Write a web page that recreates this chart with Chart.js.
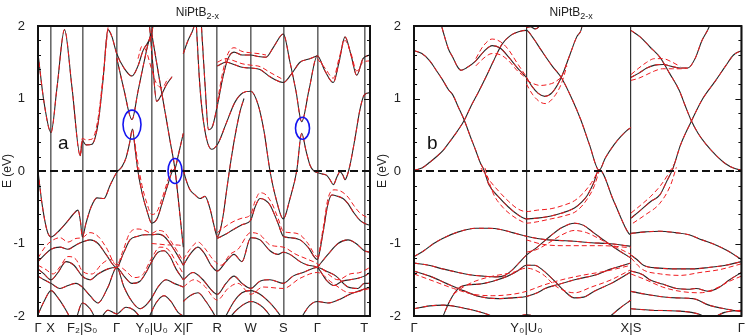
<!DOCTYPE html>
<html>
<head>
<meta charset="utf-8">
<script src="https://cdn.jsdelivr.net/npm/chart.js@4.4.1/dist/chart.umd.min.js"></script>
<style>
  html, body { margin: 0; padding: 0; background: #fff; }
  #wrap { position: relative; width: 750px; height: 336px; overflow: hidden; }
  canvas { position: absolute; top: 0; }
</style>
</head>
<body>
<div id="wrap">
  <canvas id="panelA" width="375" height="336" style="left:0;width:375px;height:336px"></canvas>
  <canvas id="panelB" width="375" height="336" style="left:375px;width:375px;height:336px"></canvas>
</div>
<script>
// ---------- axes ----------
const yTicks = [-2, -1, 0, 1, 2];
const leftNodes  = [0, 12.7, 44.3, 78.7, 113.7, 145.3, 179.3, 212.7, 245.3, 279.3, 326.3];
const leftLabels = ['Γ', 'X', 'F₂|S₀', 'Γ', 'Y₀|U₀', 'X|Γ', 'R', 'W', 'S', 'Γ', 'T'];
const leftKMax = 332;
const rightNodes  = [0, 114, 220, 332];
const rightLabels = ['Γ', 'Y₀|U₀', 'X|S', 'Γ'];
const rightKMax = 332;

// ---------- panel a : bands [k, E] ----------
const bandA = [[0,1.62],[6,0.95],[13,0.53],[19,1.15],[26.5,1.95],[34,1.15],[42.3,0.21],[44.3,0.42],[48,0.36],[54,0.37],[60,0.65],[65,1.25],[70,1.95],[74,1.85],[78.7,1.62],[86,1.42],[94,1.31],[100,1.45],[105,1.66],[113.7,1.9],[116,2.1]];
const bandB = [[78.7,1.56],[86,1.12],[94,0.71],[100,1.1],[106,1.5],[110,1.75],[113.7,1.92]];
const bandC = [[111,2.1],[114,1.6],[118.7,0.96],[123,1.04],[128,1.18],[134,1.3]];
const bandD = [[113.7,1.9],[120,1.38],[127,0.82],[132,0.42],[137,0.02],[140,-0.35],[143,-0.75],[145.3,-1.05]];
const bandE = [[0,0.0],[4,-0.45],[9,-0.82],[13,-0.91],[20,-0.84],[28,-0.72],[35,-0.6],[40,-0.54],[42.5,-0.7],[44.3,-0.91],[48,-0.72],[53,-0.5],[59,-0.37],[66,-0.38],[72,-0.2],[78.7,-0.02],[84,0.06],[88,0.18],[91.5,0.38],[94.5,0.58],[97,0.32],[99.7,0.02],[104,-0.3],[109,-0.55],[113.7,-0.72],[119,-0.66],[124,-0.45],[130,-0.18],[134.5,0.0],[137,0.03],[140,0.2],[145.3,0.52]];
const bandF = [[145.3,1.62],[150,1.8],[155,1.95],[158,2.1]];
const bandG = [[163,2.1],[167,1.2],[170.5,0.57],[174,0.6],[179.3,0.9],[185,1.3],[190,1.55],[196,1.64],[204,1.6],[212.7,1.6],[220,1.58],[228,1.57],[236,1.72],[245.3,1.89],[252,1.5],[258,1.1],[263.7,0.68],[271,1.12],[279.3,1.59],[287,1.38],[295.3,1.22],[301,1.5],[307,1.85],[313,1.6],[318.7,1.32],[325,1.55],[332,1.6]];
const bandH = [[179.3,1.45],[188,1.5],[196,1.47],[204,1.43],[212.7,1.42],[222,1.4],[232,1.3],[240,1.24],[245.3,1.22],[253,1.33],[262,1.5],[270,1.54],[279.3,1.59]];
const bandI = [[158,2.1],[162,1.15],[167,0.55],[173.7,0.3],[180,0.38],[188,0.65],[197,0.95],[205,1.08],[212.7,1.1],[220,0.92],[226,0.55],[232,0.0],[238,-0.38],[245.3,-0.66],[252,-0.38],[258.7,0.0],[263.7,0.52],[268,0.28],[272,0.08],[276,0.0],[279.3,-0.02],[284,-0.04],[288.7,-0.06],[292,-0.12],[295.3,-0.19],[299,-0.08],[302,-0.01],[305,-0.06],[307,-0.12],[309.5,-0.05],[312,0.08],[317,0.45],[322,0.85],[326.3,1.05],[332,1.08]];
const bandJ = [[145.3,0.02],[148,-0.12],[152,-0.26],[157,-0.33],[162,-0.38],[167,-0.35],[172,-0.52],[176,-0.75],[179.3,-0.91],[182.5,-0.8],[185.3,-0.6],[188.5,-0.28],[192,0.06],[197,0.48],[202,0.82],[206,1.0]];
const bandK = [[179.3,-0.93],[188,-0.87],[195,-0.81],[204,-0.74],[212.7,-0.68],[217,-0.5],[222,-0.38],[227,-0.4],[232,-0.47],[240,-0.72],[245.3,-0.9],[252,-0.92],[262,-0.95],[270,-1.05],[279.3,-1.22],[285,-0.85],[290,-0.45],[294,-0.33],[300,-0.35],[305,-0.38],[310,-0.45],[316,-0.58],[322,-0.68],[326.3,-0.72],[332,-0.75]];
const bandL1 = [[0,-1.25],[7,-1.15],[13,-1.08],[22,-1.05],[30,-1.08],[38,-1.02],[44.3,-0.98],[52,-0.95],[60,-1.0],[68,-1.15],[78.7,-1.33],[85,-1.15],[92,-0.95],[100,-0.9],[107,-0.88],[113.7,-0.88],[120,-0.87],[126,-0.9],[132,-1.0],[139,-1.15],[145.3,-1.3]];
const bandL3 = [[0,-1.35],[6,-1.42],[13,-1.5],[20,-1.4],[28,-1.25],[36,-1.3],[44.3,-1.45],[52,-1.5],[60,-1.42],[70,-1.35],[78.7,-1.33],[86,-1.45],[94,-1.55],[102,-1.52],[108,-1.4],[113.7,-1.25],[120,-1.12],[126,-1.1],[132,-1.18],[138,-1.35],[145.3,-1.5]];
const bandL4 = [[0,-1.45],[6,-1.5],[13,-1.55],[22,-1.62],[30,-1.58],[38,-1.55],[44.3,-1.6],[52,-1.72],[60,-1.82],[70,-1.6],[78.7,-1.33],[86,-1.6],[94,-1.8],[102,-1.9],[108,-1.85],[113.7,-1.75],[120,-1.6],[128,-1.5],[136,-1.55],[145.3,-1.6]];
const bandL5 = [[0,-1.98],[6,-1.8],[13,-1.65],[20,-1.75],[28,-1.92],[33,-2.05]];
const bandL6 = [[38,-2.05],[44.3,-1.82],[52,-1.9],[58,-2.05]];
const bandL7 = [[62,-2.05],[70,-1.92],[78.7,-1.97],[88,-1.88],[96,-1.92],[104,-2.05]];
const bandL8 = [[110,-2.05],[118,-1.82],[126,-1.72],[133,-1.8],[140,-1.95],[145.3,-2.0]];
const bandR3 = [[145.3,-1.3],[152,-1.15],[160,-1.05],[167,-1.15],[173,-1.3],[179.3,-1.38],[188,-1.25],[196,-1.15],[204,-1.25],[212.7,-0.92],[222,-0.95],[232,-1.1],[240,-1.15],[245.3,-1.12],[252,-1.15],[262,-1.25],[270,-1.3],[279.3,-1.33],[288,-1.5],[296,-1.58],[304,-1.52],[312,-1.5],[320,-1.48],[326.3,-1.45],[332,-1.4]];
const bandR4 = [[145.3,-1.5],[155,-1.4],[165,-1.5],[172,-1.62],[179.3,-1.7],[188,-1.55],[196,-1.45],[204,-1.55],[212.7,-1.62],[222,-1.52],[232,-1.5],[245.3,-1.55],[255,-1.45],[265,-1.4],[279.3,-1.33],[288,-1.38],[298,-1.45],[310,-1.6],[320,-1.62],[326.3,-1.55],[332,-1.55]];
const bandR5 = [[145.3,-1.8],[152,-1.72],[160,-1.68],[168,-1.8],[175,-1.95],[179.3,-2.05]];
const bandR6 = [[186,-2.05],[196,-1.8],[204,-1.68],[212.7,-1.65],[222,-1.7],[232,-1.82],[240,-1.95],[245.3,-2.05]];
const bandR7 = [[190,-2.05],[200,-1.9],[212.7,-1.8],[225,-1.88],[235,-2.05]];
const bandR8 = [[262,-2.05],[272,-1.85],[279.3,-1.8],[290,-1.82],[300,-1.78],[312,-1.7],[322,-1.65],[332,-1.6]];
const bandR9 = [[279.3,-1.33],[290,-1.15],[300,-1.0],[310,-0.95],[318,-1.0],[326.3,-1.1],[332,-1.12]];

// extra red (dashed) branches of panel a
const redA  = [[42.3,0.21],[44.3,0.45],[48,0.43],[54,0.44],[60,0.72],[65,1.3],[70,1.98]];
const redE  = [[97,0.38],[100,0.1],[104,-0.2],[109,-0.45],[113.7,-0.6],[119,-0.56],[124,-0.38],[130,-0.12],[134,0.05]];
const redX  = [[100,1.55],[104,1.72],[108,1.66],[113.7,1.4],[118,1.22],[124,1.15],[130,1.28]];
const redG  = [[179.3,0.95],[185,1.38],[190,1.62],[196,1.7],[204,1.65],[212.7,1.63],[220,1.62],[228,1.6]];
const redH  = [[179.3,1.5],[188,1.55],[196,1.52],[204,1.48],[212.7,1.46],[222,1.44],[232,1.36],[245.3,1.26]];
const redT  = [[279.3,1.55],[287,1.42],[295.3,1.28],[301,1.55],[307,1.8],[313,1.62],[318.7,1.38],[325,1.5],[332,1.52]];
const redK  = [[179.3,-0.85],[188,-0.76],[195,-0.7],[204,-0.65],[212.7,-0.6],[217,-0.42],[222,-0.3],[228,-0.33],[234,-0.45],[240,-0.65],[245.3,-0.83],[252,-0.85],[262,-0.88],[270,-1.0],[279.3,-1.18],[285,-0.8],[290,-0.38],[296,-0.26],[303,-0.28],[310,-0.36],[316,-0.48],[322,-0.58],[326.3,-0.62],[332,-0.66]];
const redL1 = [[0,-1.2],[7,-1.05],[13,-0.97],[22,-0.92],[30,-0.98],[38,-0.93],[44.3,-0.92],[52,-0.85],[60,-0.9],[68,-1.05],[78.7,-1.3],[85,-1.1],[92,-0.85],[100,-0.8],[107,-0.82],[113.7,-0.86],[120,-0.82],[126,-0.84],[132,-0.95],[139,-1.1],[145.3,-1.25]];
const redFlat = [[113.7,-1.0],[122,-1.01],[130,-1.02],[138,-1.02],[145.3,-1.03]];
const redL3 = [[0,-1.3],[8,-1.36],[15,-1.42],[22,-1.32],[30,-1.18],[38,-1.22],[44.3,-1.38],[54,-1.42],[64,-1.28],[72,-1.22],[78.7,-1.28],[88,-1.38],[96,-1.47],[104,-1.44],[113.7,-1.2],[122,-1.05],[130,-1.08],[138,-1.25],[145.3,-1.42]];
const redR3 = [[145.3,-1.22],[152,-1.08],[160,-0.98],[167,-1.07],[175,-1.22],[183,-1.3],[192,-1.15],[200,-1.08],[212.7,-0.85],[222,-0.88],[232,-1.02],[245.3,-1.05],[258,-1.15],[270,-1.22],[279.3,-1.28],[290,-1.42],[300,-1.5],[312,-1.42],[322,-1.4],[332,-1.33]];
const redR4 = [[145.3,-1.6],[156,-1.5],[166,-1.58],[179.3,-1.78],[190,-1.62],[200,-1.55],[212.7,-1.7],[225,-1.6],[245.3,-1.62],[262,-1.48],[279.3,-1.4],[295,-1.55],[312,-1.68],[332,-1.62]];

// ---------- panel b : bands [k, E] ----------
const bandP1 = [[0,1.66],[8,1.62],[16,1.52],[23,1.38],[29.3,1.25],[35,1.12],[39.3,1.05],[45,0.88],[51,0.7],[57,0.48],[62.7,0.28],[67,0.12],[71,0.01],[76,-0.19],[86,-0.36],[96,-0.5],[105,-0.6],[114,-0.66],[125,-0.65],[139,-0.62],[150,-0.58],[162.7,-0.51],[170,-0.43],[176,-0.33],[182,-0.17],[187.7,0.02],[202.7,-0.42],[217.7,-0.86],[220,-0.88]];
const bandP2 = [[0,0.01],[8,0.04],[16,0.12],[23,0.2],[29.3,0.28],[36,0.4],[44,0.55],[51,0.7],[58,0.9],[65,1.08],[72.7,1.29],[80,1.5],[89.3,1.75],[98,1.87],[106,1.92],[114,1.94],[120,1.85],[129.3,1.66],[140,1.45],[149.3,1.29],[160,1.0],[169.3,0.7],[178,0.36],[187.7,0.01],[194,0.18],[202.7,0.36],[210,0.48],[216,0.56],[220,0.6]];
const bandP3 = [[26,2.1],[30,1.9],[35,1.68],[39.3,1.57],[44,1.44],[47.7,1.39],[53,1.42],[62.7,1.52],[71,1.65],[79.3,1.73],[88,1.69],[96,1.57],[105,1.42],[114,1.29]];
const bandP4 = [[114,1.29],[120,1.16],[126,1.07],[132.7,1.03],[140,1.08],[149.3,1.29],[158,1.6],[165,1.85],[169.3,1.94],[172,2.1]];
const bandP5 = [[220,1.94],[229.3,1.85],[240,1.7],[249.3,1.57],[259,1.35],[269,1.11],[275,0.9],[281,0.7],[288,0.52],[296,0.37],[306,0.22],[316,0.1],[324,0.04],[332,0.01]];
const bandP6 = [[220,-0.65],[229,-0.55],[240,-0.42],[249.3,-0.33],[256,-0.15],[262.7,0.04],[270,0.35],[281,0.68],[292,0.98],[306,1.25],[316,1.45],[324,1.6],[332,1.66]];
const bandP7 = [[220,1.29],[228,1.35],[236,1.42],[244,1.46],[252.7,1.47],[262,1.44],[270,1.42],[277.7,1.42],[285,1.55],[292,1.8],[299,1.98],[302,2.1]];
const bandP8 = [[114,1.98],[118,1.99],[122.7,1.96],[126,1.98],[129.3,2.05]];
const bandF1 = [[0,-1.18],[10,-1.1],[20,-1.0],[29,-0.93],[45,-0.84],[62.7,-0.79],[76,-0.79],[89,-0.81],[100,-0.85],[114,-0.9],[125,-0.93],[136,-0.95],[150,-0.96],[162.7,-0.97],[180,-0.99],[196,-1.0],[210,-1.02],[220,-1.04]];
const bandF2 = [[220,-0.86],[235,-0.84],[249,-0.83],[265,-0.85],[279,-0.88],[292,-0.95],[306,-1.02],[318,-1.1],[332,-1.22]];
const bandF3 = [[0,-1.27],[15,-1.3],[29,-1.35],[45,-1.4],[56,-1.43],[70,-1.45],[83,-1.46],[92,-1.44],[100,-1.36],[107,-1.26],[114,-1.16],[125,-1.05],[138,-0.9],[150,-0.78],[162.7,-0.72],[172,-0.75],[182,-0.85],[195,-0.98],[208,-1.1],[220,-1.2]];
const bandF4 = [[0,-1.38],[16,-1.45],[32.7,-1.55],[50,-1.65],[66,-1.73],[85,-1.76],[100,-1.75],[114,-1.73],[125,-1.68],[133,-1.62],[145,-1.57],[155,-1.53],[166,-1.49],[185,-1.43],[200,-1.35],[220,-1.27]];
const bandF5 = [[28,-2.05],[36,-1.8],[45,-1.62],[55,-1.57],[66,-1.56],[80,-1.52],[95,-1.45],[105,-1.38],[114,-1.3],[122,-1.3],[130,-1.36],[142.7,-1.52],[152,-1.65],[162.7,-1.75],[172,-1.74],[182.7,-1.66],[200,-1.55],[219,-1.4]];
const bandF6 = [[220,-1.16],[226,-1.22],[232.7,-1.3],[249,-1.34],[266,-1.35],[282,-1.35],[299,-1.33],[316,-1.3],[332,-1.25]];
const bandF7 = [[220,-1.38],[232,-1.43],[239,-1.5],[252,-1.56],[266,-1.62],[280,-1.63],[286,-1.62],[299,-1.66],[310,-1.6],[320,-1.5],[332,-1.4]];
const bandF8 = [[220,-1.66],[235,-1.7],[249,-1.73],[266,-1.75],[283,-1.76],[299,-1.85],[315,-1.9],[332,-1.94]];
const bandF9 = [[220,-1.9],[240,-1.92],[266,-1.93],[290,-1.98],[299,-2.05]];
const bandF10 = [[300,-2.05],[315,-1.95],[332,-1.92]];
const bandF11 = [[0,-1.9],[16,-1.86],[30,-1.85],[50,-1.89],[75,-1.98],[85,-2.05]];
const bandF12 = [[100,-2.05],[114,-1.98],[125,-2.02],[132,-2.05]];
const bandF13 = [[195,-2.05],[208,-1.9],[220,-1.78]];

// extra red (dashed) branches of panel b
const redP1a = [[68,0.04],[76,-0.12],[86,-0.28],[96,-0.42],[105,-0.52],[114,-0.56],[125,-0.54],[139,-0.52],[150,-0.48],[162.7,-0.41],[172,-0.3],[180,-0.16],[187.7,0.02]];
const redP1b = [[72,0.04],[80,-0.3],[90,-0.5],[100,-0.62],[110,-0.7],[114,-0.72],[125,-0.7],[139,-0.66],[152,-0.62],[165,-0.55],[176,-0.38],[183,-0.2],[187.7,0.0]];
const redP3a = [[62.7,1.55],[70,1.72],[79.3,1.82],[88,1.78],[96,1.67],[105,1.48],[114,1.3]];
const redP3b = [[62.7,1.45],[71,1.56],[79.3,1.62],[88,1.6],[96,1.52],[105,1.38],[114,1.28]];
const redP4a = [[114,1.25],[120,1.21],[128,1.18],[135,1.19],[142,1.22],[149.3,1.29]];
const redP4b = [[114,1.2],[120,1.06],[127,0.96],[133,0.93],[140,0.99],[149.3,1.2],[155,1.45]];
const redP6a = [[220,-0.58],[230,-0.47],[240,-0.35],[250,-0.2],[258,-0.04],[264,0.1]];
const redP6b = [[222,-0.72],[235,-0.6],[249,-0.45],[260,-0.2],[266,0.05]];
const redP7a = [[220,1.33],[228,1.42],[236,1.5],[244,1.55],[252,1.55],[262,1.5],[270,1.44]];
const redP7b = [[220,1.25],[228,1.28],[236,1.33],[244,1.38],[252,1.41],[262,1.41],[270,1.41],[277.7,1.42]];
const redF1 = [[114,-0.95],[130,-1.01],[150,-1.03],[170,-1.03],[190,-1.03],[205,-1.04],[220,-1.06]];
const redF3 = [[114,-1.12],[125,-1.08],[138,-0.98],[150,-0.88],[162.7,-0.82],[175,-0.85],[190,-0.95],[205,-1.05],[220,-1.15]];
const redF4 = [[0,-1.42],[20,-1.52],[40,-1.62],[60,-1.7],[80,-1.72],[100,-1.7],[114,-1.66],[130,-1.58],[150,-1.5],[170,-1.44],[195,-1.38],[220,-1.3]];
const redF5 = [[40,-1.7],[50,-1.6],[62,-1.52],[80,-1.45],[100,-1.4],[114,-1.34],[130,-1.42],[145,-1.6],[162.7,-1.68],[180,-1.6],[200,-1.5],[220,-1.36]];
const redF6 = [[220,-1.2],[232,-1.36],[250,-1.42],[270,-1.44],[290,-1.4],[310,-1.36],[332,-1.28]];
const redF7 = [[220,-1.42],[235,-1.5],[252,-1.6],[270,-1.66],[290,-1.68],[306,-1.62],[320,-1.52],[332,-1.45]];

// annotation circles of panel a (data coordinates)
const circleCenters = [[94, 0.64], [137, 0.0], [264.5, 0.59]];

const leftBands = [bandA, bandB, bandC, bandD, bandE, bandF, bandG, bandH, bandI, bandJ, bandK,
  bandL1, bandL3, bandL4, bandL5, bandL6, bandL7, bandL8, bandR3, bandR4, bandR5, bandR6, bandR7, bandR8, bandR9];
const leftReds = [redA, redE, redX, redG, redH, redT, redK, redL1, redFlat, redL3, redR3, redR4];
const rightBands = [bandP1, bandP2, bandP3, bandP4, bandP5, bandP6, bandP7, bandP8,
  bandF1, bandF2, bandF3, bandF4, bandF5, bandF6, bandF7, bandF8, bandF9, bandF10, bandF11, bandF12, bandF13];
const rightReds = [redP1a, redP1b, redP3a, redP3b, redP4a, redP4b, redP6a, redP6b, redP7a, redP7b,
  redF1, redF3, redF4, redF5, redF6, redF7];

// ---------- drawing ----------
const FONT = "'Liberation Sans', Arial, sans-serif";
const BLACK = '#262626';
const RED = '#f01c20';

const toXY = pts => pts.map(p => ({ x: p[0], y: p[1] }));

function line(pts, color, dash, width, order) {
  return { data: toXY(pts), borderColor: color, borderWidth: width, borderDash: dash,
           order, clip: 0, cubicInterpolationMode: 'monotone', pointRadius: 0, fill: false };
}

function panelPlugin(cfg) {
  return {
    id: 'deco' + cfg.letter,
    beforeDraw(chart) {
      const c = chart.ctx;
      c.save(); c.fillStyle = '#fff'; c.fillRect(0, 0, chart.width, chart.height); c.restore();
    },
    afterDatasetsDraw(chart) {
      const { ctx, chartArea: a, scales: { x, y } } = chart;
      ctx.save();
      // circles
      ctx.strokeStyle = '#1414f0'; ctx.lineWidth = 1.6;
      const radii = [[9, 14.5], [7, 12.5], [7, 11]];
      (cfg.circles || []).forEach((c, i) => {
        ctx.beginPath();
        ctx.ellipse(x.getPixelForValue(c[0]), y.getPixelForValue(c[1]), radii[i][0], radii[i][1], 0, 0, Math.PI * 2);
        ctx.stroke();
      });
      // frame
      ctx.strokeStyle = '#111'; ctx.lineWidth = 2;
      ctx.strokeRect(a.left, a.top, a.right - a.left, a.bottom - a.top);
      // inner ticks on both sides
      ctx.lineWidth = 1;
      for (let i = 0; i <= 20; i++) {
        const py = Math.round(y.getPixelForValue(-2 + i * 0.2)) + 0.5;
        const len = i % 5 === 0 ? 6 : 3;
        ctx.beginPath();
        ctx.moveTo(a.left, py); ctx.lineTo(a.left + len, py);
        ctx.moveTo(a.right, py); ctx.lineTo(a.right - len, py);
        ctx.stroke();
      }
      // panel letter
      ctx.fillStyle = '#111';
      ctx.font = '19px ' + FONT;
      ctx.textBaseline = 'alphabetic';
      ctx.fillText(cfg.letter, a.left + cfg.letterDx, 149);
      // title NiPtB_{2-x}
      const main = 'NiPtB', sub = '2-x';
      ctx.font = '12px ' + FONT;
      const w1 = ctx.measureText(main).width;
      ctx.font = '9px ' + FONT;
      const w2 = ctx.measureText(sub).width;
      const cx = a.left + (a.right - a.left) * 0.48;
      const x0 = cx - (w1 + w2) / 2;
      ctx.font = '12px ' + FONT;
      ctx.fillStyle = '#222';
      ctx.fillText(main, x0, 15.5);
      ctx.font = '9px ' + FONT;
      ctx.fillText(sub, x0 + w1, 18.5);
      ctx.restore();
    }
  };
}

function makePanel(id, cfg) {
  const datasets = [line([[0, 0], [cfg.kMax, 0]], '#111', [8, 4], 1.8, 0)];
  datasets[0].cubicInterpolationMode = 'default';
  cfg.bands.forEach(b => {
    datasets.push(line(b, BLACK, [], 1.1, 3));
    datasets.push(line(b, RED, [5, 4], 1, 2));
  });
  cfg.reds.forEach(b => datasets.push(line(b, RED, [5, 3], 1, 2)));

  new Chart(document.getElementById(id), {
    type: 'line',
    data: { datasets },
    options: {
      responsive: false,
      animation: false,
      events: [],
      layout: { padding: { top: 26, right: cfg.padRight, left: 0, bottom: 0 } },
      plugins: { legend: { display: false }, tooltip: { enabled: false } },
      scales: {
        x: {
          type: 'linear', min: 0, max: cfg.kMax,
          afterBuildTicks: ax => { ax.ticks = cfg.nodes.map(v => ({ value: v })); },
          afterFit: ax => { ax.height = 20; },
          grid: { color: cfg.nodeColor, lineWidth: cfg.nodeWidth, drawTicks: false },
          border: { display: false },
          ticks: { autoSkip: false, maxRotation: 0, padding: 5, color: '#222',
                   font: { family: FONT, size: 13 }, callback: (v, i) => cfg.labels[i] }
        },
        y: {
          min: -2, max: 2,
          afterBuildTicks: ax => { ax.ticks = yTicks.map(v => ({ value: v })); },
          afterFit: ax => { ax.width = cfg.yWidth; },
          grid: { display: false },
          border: { display: false },
          ticks: { padding: 5, color: '#222', font: { family: FONT, size: 13 }, callback: v => String(v) },
          title: { display: true, text: 'E (eV)', color: '#222', font: { family: FONT, size: 12 }, padding: 0 }
        }
      }
    },
    plugins: [panelPlugin(cfg)]
  });
}

makePanel('panelA', { nodes: leftNodes, labels: leftLabels, kMax: leftKMax, bands: leftBands, reds: leftReds,
  padRight: 5, yWidth: 38, nodeColor: '#6a6a6a', nodeWidth: 1.6, letter: 'a', letterDx: 20, circles: circleCenters });
makePanel('panelB', { nodes: rightNodes, labels: rightLabels, kMax: rightKMax, bands: rightBands, reds: rightReds,
  padRight: 4, yWidth: 39, nodeColor: '#333', nodeWidth: 1.2, letter: 'b', letterDx: 13, circles: [] });
</script>
</body>
</html>
